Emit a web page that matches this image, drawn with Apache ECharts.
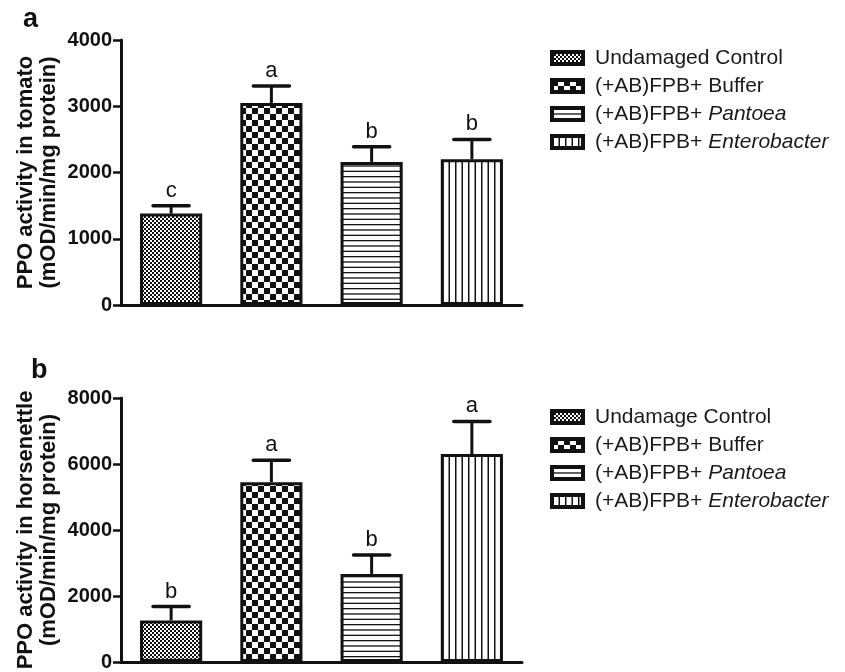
<!DOCTYPE html>
<html>
<head>
<meta charset="utf-8">
<script src="https://cdn.jsdelivr.net/npm/echarts@6/dist/echarts.min.js"></script>
<style>
  html, body { margin: 0; background: #fff; }
  #chart { width: 845px; height: 672px; }
</style>
</head>
<body>
<div id="chart"></div>
<script>
const tomatoGroups = ['Undamaged Control', '(+AB)FPB+ Buffer', '(+AB)FPB+ Pantoea', '(+AB)FPB+ Enterobacter']
const horseGroups = ['Undamage Control', '(+AB)FPB+ Buffer', '(+AB)FPB+ Pantoea', '(+AB)FPB+ Enterobacter']
const tomatoMean = [1380, 3050, 2160, 2200]
const tomatoSem = [120, 255, 230, 300]
const tomatoLetters = ['c', 'a', 'b', 'b']
const horseMean = [1260, 5450, 2670, 6300]
const horseSem = [420, 660, 570, 990]
const horseLetters = ['b', 'a', 'b', 'a']
const tomatoTicks = [0, 1000, 2000, 3000, 4000]
const horseTicks = [0, 2000, 4000, 6000, 8000]
const italicWords = ['Pantoea', 'Enterobacter']

const ink = '#111'
const font = '"Liberation Sans", Arial, sans-serif'

// fill patterns for the four treatments
function makePattern(w, h, draw) {
  const c = document.createElement('canvas')
  c.width = w
  c.height = h
  const ctx = c.getContext('2d')
  ctx.fillStyle = '#fff'
  ctx.fillRect(0, 0, w, h)
  ctx.fillStyle = ink
  draw(ctx, w, h)
  return { image: c, repeat: 'repeat' }
}
const patterns = [
  makePattern(4, 4, ctx => { ctx.fillRect(0, 0, 2, 2); ctx.fillRect(2, 2, 2, 2) }),
  makePattern(12, 12, ctx => { ctx.fillRect(0, 0, 6, 6); ctx.fillRect(6, 6, 6, 6) }),
  makePattern(8, 16, (ctx, w) => { ctx.fillRect(0, 0, w, 1.3); ctx.fillRect(0, 5.33, w, 1.3); ctx.fillRect(0, 10.67, w, 1.3) }),
  makePattern(13, 8, (ctx, w, h) => { ctx.fillRect(0, 0, 1.5, h); ctx.fillRect(6.5, 0, 1.5, h) })
]

function barSeries(groups, means, idx) {
  return groups.map((name, i) => ({
    name,
    type: 'bar',
    xAxisIndex: idx,
    yAxisIndex: idx,
    barWidth: '62%',
    barGap: '-100%',
    data: means.map((v, j) => (j === i ? v : '-')),
    itemStyle: { color: patterns[i], borderColor: ink, borderWidth: 3 }
  }))
}

function errorSeries(means, sems, letters, idx) {
  return {
    type: 'custom',
    name: 'sem' + idx,
    xAxisIndex: idx,
    yAxisIndex: idx,
    z: 5,
    data: means.map((v, j) => [j, v, v + sems[j]]),
    renderItem: (params, api) => {
      const base = api.coord([api.value(0), api.value(1)])
      const top = api.coord([api.value(0), api.value(2)])
      const half = api.size([1, 0])[0] * 0.18
      return {
        type: 'group',
        children: [
          { type: 'line', shape: { x1: base[0], y1: base[1], x2: top[0], y2: top[1] }, style: { stroke: ink, lineWidth: 3 } },
          { type: 'line', shape: { x1: top[0] - half, y1: top[1], x2: top[0] + half, y2: top[1] }, style: { stroke: ink, lineWidth: 3.5, lineCap: 'round' } },
          {
            type: 'text',
            x: top[0],
            y: top[1] - 4,
            style: { text: letters[params.dataIndex], align: 'center', verticalAlign: 'bottom', fontSize: 22, fontFamily: font, fill: ink }
          }
        ]
      }
    }
  }
}

function legendFormat(name) {
  for (const w of italicWords) {
    if (name.endsWith(w)) return name.slice(0, name.length - w.length) + '{i|' + w + '}'
  }
  return name
}

function legend(groups, top) {
  return {
    data: groups.map(name => ({ name, icon: 'rect' })),
    orient: 'vertical',
    left: 545,
    top,
    itemWidth: 31,
    itemHeight: 12,
    itemGap: 6,
    selectedMode: false,
    formatter: legendFormat,
    itemStyle: { borderWidth: 4, borderColor: ink },
    textStyle: {
      fontSize: 21,
      fontFamily: font,
      color: '#1a1a1a',
      lineHeight: 22,
      padding: [0, 0, 0, 7],
      rich: { i: { fontSize: 21, fontFamily: font, fontStyle: 'italic', color: '#1a1a1a' } }
    }
  }
}

function yAxis(ticks, name, idx) {
  return {
    type: 'value',
    gridIndex: idx,
    min: ticks[0],
    max: ticks[ticks.length - 1],
    interval: ticks[1] - ticks[0],
    splitLine: { show: false },
    axisLine: { show: true, lineStyle: { color: ink, width: 3 } },
    axisTick: { show: true, length: 8, lineStyle: { color: ink, width: 2.5 } },
    axisLabel: { fontSize: 20, fontWeight: 'bold', fontFamily: font, color: ink, margin: 9, formatter: v => String(v) },
    name,
    nameLocation: 'middle',
    nameRotate: 90,
    nameGap: 61,
    nameTextStyle: { fontSize: 22, fontWeight: 'bold', fontFamily: font, color: ink, lineHeight: 23 }
  }
}

function xAxis(groups, idx) {
  return {
    type: 'category',
    gridIndex: idx,
    data: groups,
    axisLine: { lineStyle: { color: ink, width: 3 } },
    axisTick: { alignWithLabel: true, length: 8, lineStyle: { color: ink, width: 2.5 } },
    axisLabel: { show: false }
  }
}

const chart = echarts.init(document.getElementById('chart'))
chart.setOption({
  animation: false,
  backgroundColor: '#fff',
  title: [
    { text: 'a', left: 23, top: 6, padding: 0, textStyle: { fontSize: 27, fontWeight: 'bold', fontFamily: font, color: ink } },
    { text: 'b', left: 31, top: 357, padding: 0, textStyle: { fontSize: 27, fontWeight: 'bold', fontFamily: font, color: ink } }
  ],
  legend: [legend(tomatoGroups, 42), legend(horseGroups, 401)],
  grid: [
    { left: 121, top: 40, width: 401, height: 265 },
    { left: 121, top: 398, width: 401, height: 267 }
  ],
  xAxis: [xAxis(tomatoGroups, 0), xAxis(horseGroups, 1)],
  yAxis: [
    yAxis(tomatoTicks, 'PPO activity in tomato\n(mOD/min/mg protein)', 0),
    yAxis(horseTicks, 'PPO activity in horsenettle\n(mOD/min/mg protein)', 1)
  ],
  series: [
    ...barSeries(tomatoGroups, tomatoMean, 0),
    errorSeries(tomatoMean, tomatoSem, tomatoLetters, 0),
    ...barSeries(horseGroups, horseMean, 1),
    errorSeries(horseMean, horseSem, horseLetters, 1)
  ]
})
</script>
</body>
</html>
